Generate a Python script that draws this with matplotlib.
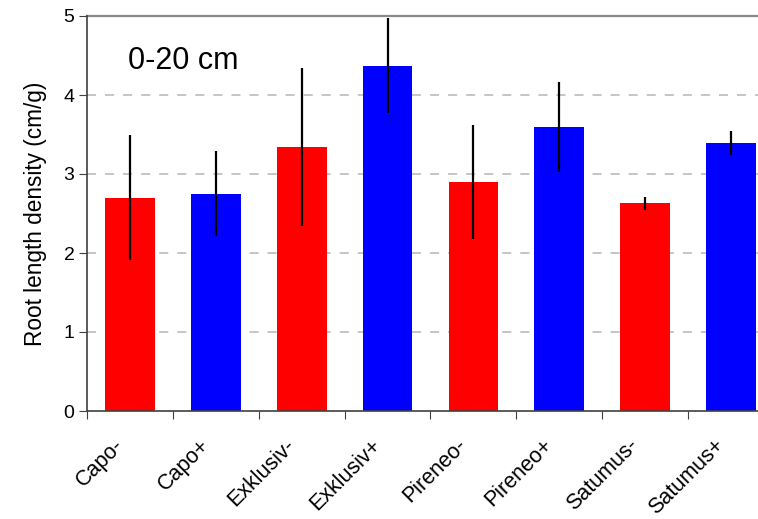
import numpy as np
import matplotlib.pyplot as plt
import matplotlib.transforms as mtransforms

plt.rcParams['font.family'] = ['Liberation Sans', 'DejaVu Sans']

# donnees
categories = ["Capo-", "Capo+", "Exklusiv-", "Exklusiv+",
              "Pireneo-", "Pireneo+", "Satumus-", "Satumus+"]
densite = [2.70, 2.75, 3.34, 4.37, 2.90, 3.59, 2.63, 3.39]
erreur = [0.79, 0.54, 1.00, 0.60, 0.72, 0.57, 0.08, 0.15]
couleurs = ["#ff0000", "#0000ff"] * 4

fig = plt.figure(figsize=(7.58, 5.19), dpi=100)
ax = fig.add_axes([87 / 758, 108 / 519, 687 / 758, 395 / 519])

x = np.arange(len(categories))
ax.bar(x, densite, width=0.58, color=couleurs, zorder=2)
ax.errorbar(x, densite, yerr=erreur, fmt='none', ecolor='black',
            elinewidth=1.6, capsize=0, zorder=3)

ax.set_xlim(-0.5, len(categories) - 0.5)
ax.set_ylim(0, 5)

# grille en tirets
for yv in [1, 2, 3, 4]:
    ax.axhline(yv, color='#c0c0c0', linestyle=(0, (5, 5)), linewidth=1.3, zorder=1)
ax.axhline(5, color='#8a8a8a', linewidth=1.6, zorder=1, clip_on=False)

ax.spines['right'].set_visible(False)
ax.spines['top'].set_visible(False)
ax.spines['left'].set_color('#404040')
ax.spines['bottom'].set_color('#404040')
ax.spines['left'].set_linewidth(1.2)
ax.spines['bottom'].set_linewidth(1.2)

ax.set_yticks([0, 1, 2, 3, 4, 5])
ax.tick_params(axis='y', labelsize=14, length=6, color='#404040', pad=3)

# ticks aux limites, etiquettes au centre
ax.set_xticks(np.arange(len(categories)) - 0.5)
ax.set_xticklabels([])
ax.tick_params(axis='x', which='major', length=6, color='#404040')
ax.set_xticks(x, minor=True)
ax.set_xticklabels(categories, minor=True, rotation=45, ha='right',
                   rotation_mode='anchor', fontsize=15.5)
ax.tick_params(axis='x', which='minor', length=0, pad=17)
decalage = mtransforms.ScaledTranslation(-17 / 100, 0, fig.dpi_scale_trans)
for lab in ax.get_xticklabels(minor=True):
    lab.set_transform(lab.get_transform() + decalage)

ax.set_ylabel("Root length density (cm/g)", fontsize=16.3, labelpad=12)
ax.text(0.06, 0.885, "0-20 cm", transform=ax.transAxes, fontsize=22,
        va='center', ha='left')

fig.savefig("out.png", dpi=100)
